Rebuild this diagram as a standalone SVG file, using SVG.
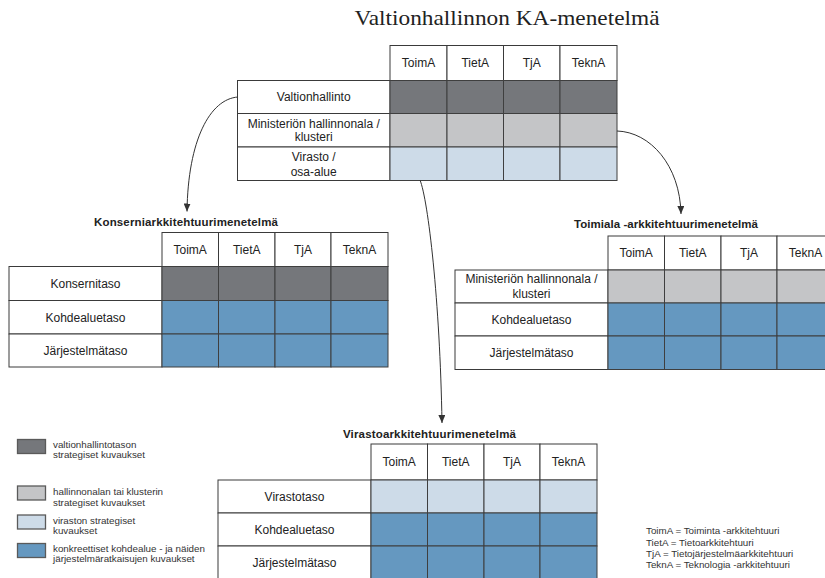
<svg xmlns="http://www.w3.org/2000/svg" width="825" height="578" viewBox="0 0 825 578">
<defs>
<style>
.w{fill:#ffffff;stroke:#3a3a3a;stroke-width:1}
.d{fill:#75777b;stroke:#3f3f3f;stroke-width:1}
.l{fill:#c4c5c7;stroke:#3f3f3f;stroke-width:1}
.p{fill:#cddbe8;stroke:#3f3f3f;stroke-width:1}
.b{fill:#6598c0;stroke:#3f3f3f;stroke-width:1}
.t{font-family:"Liberation Sans",Arial,sans-serif;font-size:12px;fill:#222;text-anchor:middle}
.h{font-family:"Liberation Sans",Arial,sans-serif;font-size:11.5px;font-weight:bold;fill:#222;text-anchor:middle}
.s{font-family:"Liberation Sans",Arial,sans-serif;font-size:9.8px;fill:#333}
.sw{stroke:#5a5a5a;stroke-width:1.3}
.c{fill:none;stroke:#333;stroke-width:1}
</style>
<marker id="ah" markerWidth="8" markerHeight="7" refX="8" refY="3.5" orient="auto" markerUnits="userSpaceOnUse">
<path d="M0,0 L8,3.5 L0,7 z" fill="#333"/>
</marker>
</defs>
<rect width="825" height="578" fill="#ffffff"/>
<text x="507" y="25" font-family="'Liberation Serif','Times New Roman',serif" font-size="22" fill="#222" text-anchor="middle" textLength="305" lengthAdjust="spacingAndGlyphs">Valtionhallinnon KA-menetelmä</text>

<g id="top-table">
<rect class="w" x="390" y="45.5" width="57" height="35"/>
<rect class="w" x="447" y="45.5" width="56.5" height="35"/>
<rect class="w" x="503.5" y="45.5" width="56.5" height="35"/>
<rect class="w" x="560" y="45.5" width="57" height="35"/>
<text class="t" x="418.5" y="67.3">ToimA</text>
<text class="t" x="475.2" y="67.3">TietA</text>
<text class="t" x="531.7" y="67.3">TjA</text>
<text class="t" x="588.5" y="67.3">TeknA</text>
<rect class="w" x="237.5" y="80.5" width="152.5" height="33"/>
<rect class="w" x="237.5" y="113.5" width="152.5" height="33.5"/>
<rect class="w" x="237.5" y="147" width="152.5" height="33.5"/>
<rect class="d" x="390" y="80.5" width="57" height="33"/>
<rect class="d" x="447" y="80.5" width="56.5" height="33"/>
<rect class="d" x="503.5" y="80.5" width="56.5" height="33"/>
<rect class="d" x="560" y="80.5" width="57" height="33"/>
<rect class="l" x="390" y="113.5" width="57" height="33.5"/>
<rect class="l" x="447" y="113.5" width="56.5" height="33.5"/>
<rect class="l" x="503.5" y="113.5" width="56.5" height="33.5"/>
<rect class="l" x="560" y="113.5" width="57" height="33.5"/>
<rect class="p" x="390" y="147" width="57" height="33.5"/>
<rect class="p" x="447" y="147" width="56.5" height="33.5"/>
<rect class="p" x="503.5" y="147" width="56.5" height="33.5"/>
<rect class="p" x="560" y="147" width="57" height="33.5"/>
<text class="t" x="313.7" y="101.3">Valtionhallinto</text>
<text class="t" x="313.7" y="127.5">Ministeriön hallinnonala /</text>
<text class="t" x="313.7" y="140.5">klusteri</text>
<text class="t" x="313.7" y="160.8">Virasto /</text>
<text class="t" x="313.7" y="176">osa-alue</text>
</g>

<g id="konserni-table">
<text class="h" x="186" y="226" textLength="184" lengthAdjust="spacing">Konserniarkkitehtuurimenetelmä</text>
<rect class="w" x="162" y="232.5" width="56.5" height="34"/>
<rect class="w" x="218.5" y="232.5" width="56.5" height="34"/>
<rect class="w" x="275" y="232.5" width="56" height="34"/>
<rect class="w" x="331" y="232.5" width="57" height="34"/>
<text class="t" x="190.2" y="253.8">ToimA</text>
<text class="t" x="246.7" y="253.8">TietA</text>
<text class="t" x="303" y="253.8">TjA</text>
<text class="t" x="359.5" y="253.8">TeknA</text>
<rect class="w" x="9" y="266.5" width="153" height="34"/>
<rect class="w" x="9" y="300.5" width="153" height="33.5"/>
<rect class="w" x="9" y="334" width="153" height="33"/>
<rect class="d" x="162" y="266.5" width="56.5" height="34"/>
<rect class="d" x="218.5" y="266.5" width="56.5" height="34"/>
<rect class="d" x="275" y="266.5" width="56" height="34"/>
<rect class="d" x="331" y="266.5" width="57" height="34"/>
<rect class="b" x="162" y="300.5" width="56.5" height="33.5"/>
<rect class="b" x="218.5" y="300.5" width="56.5" height="33.5"/>
<rect class="b" x="275" y="300.5" width="56" height="33.5"/>
<rect class="b" x="331" y="300.5" width="57" height="33.5"/>
<rect class="b" x="162" y="334" width="56.5" height="33"/>
<rect class="b" x="218.5" y="334" width="56.5" height="33"/>
<rect class="b" x="275" y="334" width="56" height="33"/>
<rect class="b" x="331" y="334" width="57" height="33"/>
<text class="t" x="85.5" y="287.8">Konsernitaso</text>
<text class="t" x="85.5" y="321.5">Kohdealuetaso</text>
<text class="t" x="85.5" y="354.8">Järjestelmätaso</text>
</g>

<g id="toimiala-table">
<text class="h" x="666" y="228" textLength="184" lengthAdjust="spacing">Toimiala -arkkitehtuurimenetelmä</text>
<rect class="w" x="608" y="236" width="56.5" height="34"/>
<rect class="w" x="664.5" y="236" width="56.5" height="34"/>
<rect class="w" x="721" y="236" width="56" height="34"/>
<rect class="w" x="777" y="236" width="57" height="34"/>
<text class="t" x="636.2" y="257.3">ToimA</text>
<text class="t" x="692.7" y="257.3">TietA</text>
<text class="t" x="749" y="257.3">TjA</text>
<text class="t" x="805.5" y="257.3">TeknA</text>
<rect class="w" x="455" y="270" width="153" height="33"/>
<rect class="w" x="455" y="303" width="153" height="33"/>
<rect class="w" x="455" y="336" width="153" height="33.5"/>
<rect class="l" x="608" y="270" width="56.5" height="33"/>
<rect class="l" x="664.5" y="270" width="56.5" height="33"/>
<rect class="l" x="721" y="270" width="56" height="33"/>
<rect class="l" x="777" y="270" width="57" height="33"/>
<rect class="b" x="608" y="303" width="56.5" height="33"/>
<rect class="b" x="664.5" y="303" width="56.5" height="33"/>
<rect class="b" x="721" y="303" width="56" height="33"/>
<rect class="b" x="777" y="303" width="57" height="33"/>
<rect class="b" x="608" y="336" width="56.5" height="33.5"/>
<rect class="b" x="664.5" y="336" width="56.5" height="33.5"/>
<rect class="b" x="721" y="336" width="56" height="33.5"/>
<rect class="b" x="777" y="336" width="57" height="33.5"/>
<text class="t" x="531.5" y="283">Ministeriön hallinnonala /</text>
<text class="t" x="531.5" y="298">klusteri</text>
<text class="t" x="531.5" y="323.8">Kohdealuetaso</text>
<text class="t" x="531.5" y="357">Järjestelmätaso</text>
</g>

<g id="virasto-table">
<text class="h" x="429.5" y="438" textLength="173" lengthAdjust="spacing">Virastoarkkitehtuurimenetelmä</text>
<rect class="w" x="371" y="444" width="56.5" height="36"/>
<rect class="w" x="427.5" y="444" width="56.5" height="36"/>
<rect class="w" x="484" y="444" width="56" height="36"/>
<rect class="w" x="540" y="444" width="57" height="36"/>
<text class="t" x="399.2" y="466.3">ToimA</text>
<text class="t" x="455.7" y="466.3">TietA</text>
<text class="t" x="512" y="466.3">TjA</text>
<text class="t" x="568.5" y="466.3">TeknA</text>
<rect class="w" x="218" y="480" width="153" height="33"/>
<rect class="w" x="218" y="513" width="153" height="33"/>
<rect class="w" x="218" y="546" width="153" height="33"/>
<rect class="p" x="371" y="480" width="56.5" height="33"/>
<rect class="p" x="427.5" y="480" width="56.5" height="33"/>
<rect class="p" x="484" y="480" width="56" height="33"/>
<rect class="p" x="540" y="480" width="57" height="33"/>
<rect class="b" x="371" y="513" width="56.5" height="33"/>
<rect class="b" x="427.5" y="513" width="56.5" height="33"/>
<rect class="b" x="484" y="513" width="56" height="33"/>
<rect class="b" x="540" y="513" width="57" height="33"/>
<rect class="b" x="371" y="546" width="56.5" height="33"/>
<rect class="b" x="427.5" y="546" width="56.5" height="33"/>
<rect class="b" x="484" y="546" width="56" height="33"/>
<rect class="b" x="540" y="546" width="57" height="33"/>
<text class="t" x="294.5" y="500.8">Virastotaso</text>
<text class="t" x="294.5" y="533.8">Kohdealuetaso</text>
<text class="t" x="294.5" y="566.8">Järjestelmätaso</text>
</g>

<g id="legend">
<rect class="sw" x="17.5" y="439.5" width="28" height="14" fill="#75777b"/>
<text class="s" x="53" y="447.5">valtionhallintotason</text>
<text class="s" x="53" y="458">strategiset kuvaukset</text>
<rect class="sw" x="17.5" y="486" width="28" height="14" fill="#c4c5c7"/>
<text class="s" x="53" y="495.3">hallinnonalan  tai klusterin</text>
<text class="s" x="53" y="505.7">strategiset kuvaukset</text>
<rect class="sw" x="17.5" y="515" width="28" height="14" fill="#cddbe8"/>
<text class="s" x="53" y="523.7">viraston strategiset</text>
<text class="s" x="53" y="534.3">kuvaukset</text>
<rect class="sw" x="17.5" y="543.5" width="28" height="14" fill="#6598c0"/>
<text class="s" x="53" y="552">konkreettiset kohdealue - ja näiden</text>
<text class="s" x="53" y="562.3">järjestelmäratkaisujen kuvaukset</text>
</g>

<g id="abbreviations">
<text class="s" x="646" y="534.3">ToimA = Toiminta -arkkitehtuuri</text>
<text class="s" x="646" y="545.5">TietA = Tietoarkkitehtuuri</text>
<text class="s" x="646" y="556.7">TjA = Tietojärjestelmäarkkitehtuuri</text>
<text class="s" x="646" y="567.9">TeknA = Teknologia -arkkitehtuuri</text>
</g>

<g id="connectors">
<path class="c" d="M238,97 C210,99 188,140 187,211.5" marker-end="url(#ah)"/>
<path class="c" d="M617,131 C650,132 680,165 681,214" marker-end="url(#ah)"/>
<path class="c" d="M420,180 C428,200 440,300 442,423" marker-end="url(#ah)"/>
</g>
</svg>
